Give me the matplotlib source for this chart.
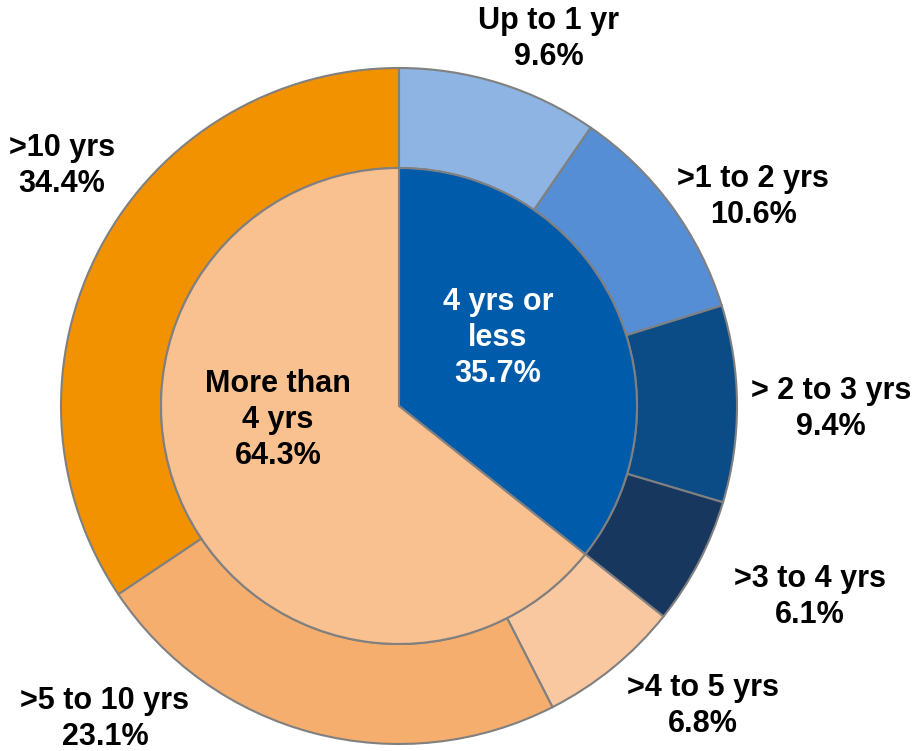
import matplotlib.pyplot as plt

# outer ring: detailed tenure buckets (clockwise from 12 o'clock)
outer_labels = ["Up to 1 yr", ">1 to 2 yrs", "> 2 to 3 yrs", ">3 to 4 yrs",
                ">4 to 5 yrs", ">5 to 10 yrs", ">10 yrs"]
outer_values = [9.6, 10.6, 9.4, 6.1, 6.8, 23.1, 34.4]
outer_colors = ["#8EB4E3", "#558ED5", "#0B4C86", "#17375E",
                "#FAC8A0", "#F5AE6E", "#F39200"]

# inner pie: grouped
inner_labels = ["4 yrs or\nless", "More than\n4 yrs"]
inner_values = [35.7, 64.3]
inner_colors = ["#005BAA", "#F9C090"]

W, H = 918, 751
plt.rcParams['font.family'] = ['Liberation Sans', 'DejaVu Sans']

fig = plt.figure(figsize=(W / 100, H / 100), dpi=100)
ax = fig.add_axes([0, 0, 1, 1])

cx, cy = 399, H - 406
r_out, r_in = 338, 238
edge = dict(edgecolor="#808080", linewidth=1.5)

ax.pie(outer_values, colors=outer_colors, startangle=90, counterclock=False,
       radius=r_out, center=(cx, cy), frame=True,
       wedgeprops=dict(width=r_out - r_in, **edge))
ax.pie(inner_values, colors=inner_colors, startangle=90, counterclock=False,
       radius=r_in, center=(cx, cy), frame=True, wedgeprops=edge)
ax.set_xlim(0, W)
ax.set_ylim(0, H)
ax.axis('off')

# label positions in pixels (from top-left)
outer_pos = [(549, 39), (753, 197), (831, 409), (810, 597),
             (703, 706), (105, 719), (62, 166)]
for lab, val, (x, y) in zip(outer_labels, outer_values, outer_pos):
    ax.text(x, H - y, f"{lab}\n{val}%", ha="center", va="center",
            fontsize=22, fontweight="bold", color="black", linespacing=1.28)

inner_pos = [(498, 338), (278, 420)]
inner_text_colors = ["white", "black"]
for lab, val, (x, y), c in zip(inner_labels, inner_values, inner_pos, inner_text_colors):
    ax.text(x, H - y, f"{lab}\n{val}%", ha="center", va="center",
            fontsize=22, fontweight="bold", color=c, linespacing=1.28)

fig.savefig("out.png", dpi=100)
